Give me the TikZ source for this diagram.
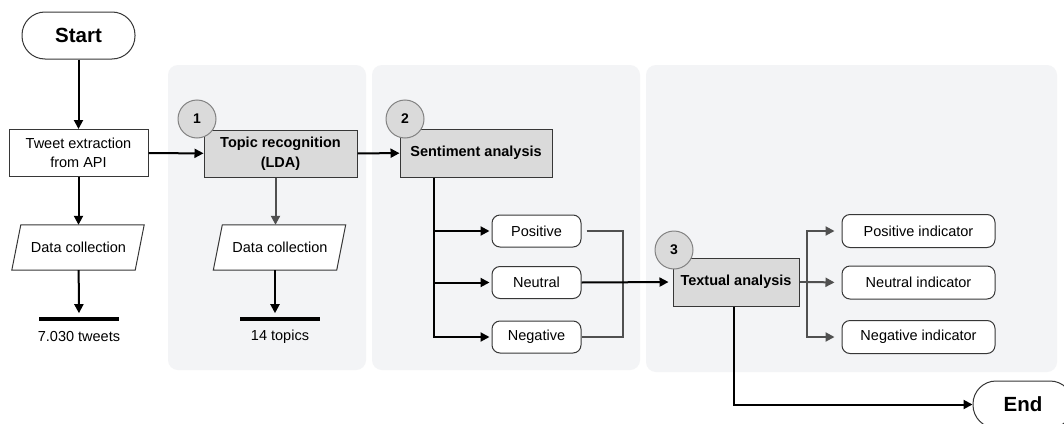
\documentclass[tikz,border=0pt]{standalone}
\usepackage{fontspec}
\setmainfont{Liberation Sans}
\usetikzlibrary{arrows.meta, backgrounds}
\definecolor{panel}{RGB}{243,244,246}
\definecolor{boxgray}{RGB}{218,218,218}
\definecolor{edge}{RGB}{55,55,55}
\definecolor{arrgray}{RGB}{80,80,80}
\definecolor{circedge}{RGB}{130,130,130}
\begin{document}
\begin{tikzpicture}[x=1pt,y=-1pt,
  font=\fontsize{14.5}{19}\selectfont,
  base/.style={draw=edge, line width=1pt, align=center, inner sep=0pt},
  plainbox/.style={base, fill=white},
  graybox/.style={base, fill=boxgray, font=\fontsize{14.5}{20}\selectfont\bfseries},
  roundbox/.style={base, fill=white, rounded corners=8pt},
  terminal/.style={base, fill=white, rounded corners=23pt, minimum height=47pt, font=\fontsize{20.5}{24}\selectfont\bfseries},
  datab/.style={align=center, inner sep=0pt, minimum width=123pt, minimum height=45pt},
  slantbox/.style={draw=edge, line width=1pt, fill=white},
  numc/.style={circle, draw=circedge, fill=boxgray, line width=1pt, minimum size=38pt, inner sep=0pt, font=\fontsize{14}{16}\selectfont\bfseries},
  barnode/.style={fill=black, inner sep=0pt, minimum width=80pt, minimum height=3.2pt},
  plaintext/.style={inner sep=0pt},
  flow/.style={line width=2pt, draw=black, -{Triangle[length=9pt,width=9pt]}},
  gflow/.style={line width=2pt, draw=arrgray, -{Triangle[length=9pt,width=9pt]}},
  gline/.style={line width=2pt, draw=arrgray}
]
\clip (0,0) rectangle (1064,423);

% left column
\node[terminal, minimum width=113pt] (start) at (78.5,35.5) {Start};
\node[plainbox, minimum width=139pt, minimum height=47pt] (tweet) at (78.5,153) {Tweet extraction\\from API};
\node[datab] (dc1) at (78.5,247.5) {Data collection};
\node[barnode] (bar1) at (79,319) {};
\node[plaintext] (t1) at (79,337) {7.030 tweets};

% panel 1
\node[graybox, minimum width=153pt, minimum height=47pt] (topic) at (280.5,153.5) {Topic recognition\\(LDA)};
\node[numc] (c1) at (197,119) {1};
\node[datab] (dc2) at (280,247.5) {Data collection};
\node[barnode] (bar2) at (280,319) {};
\node[plaintext] (t2) at (280,337) {14 topics};

% panel 2
\node[graybox, minimum width=152pt, minimum height=48pt] (sent) at (476,153) {Sentiment analysis};
\node[numc] (c2) at (405,119) {2};
\node[roundbox, minimum width=89pt, minimum height=32pt] (pos) at (536.5,231) {Positive};
\node[roundbox, minimum width=89pt, minimum height=32pt] (neu) at (536.5,282.5) {Neutral};
\node[roundbox, minimum width=89pt, minimum height=32pt] (neg) at (536.5,337) {Negative};

% panel 3
\node[graybox, minimum width=126pt, minimum height=48pt] (txt) at (736,282) {Textual analysis};
\node[numc] (c3) at (674,250) {3};
\node[roundbox, minimum width=153pt, minimum height=33pt] (pind) at (918.5,231) {Positive indicator};
\node[roundbox, minimum width=153pt, minimum height=33pt] (nind) at (918.5,282.5) {Neutral indicator};
\node[roundbox, minimum width=153pt, minimum height=33pt] (gind) at (918.5,337) {Negative indicator};

\node[terminal, minimum width=100pt] (end) at (1023,404.5) {End};

\begin{pgfonlayer}{background}
\fill[white] (0,0) rectangle (1064,423);
\fill[panel, rounded corners=10pt] (168,65) rectangle (366,370);
\fill[panel, rounded corners=10pt] (372,65) rectangle (640,370);
\fill[panel, rounded corners=10pt] (646,65) rectangle (1057,372);
\draw[slantbox] ([xshift=-5pt]dc1.south west) -- ([xshift=-5pt]dc1.south east)
  -- ([xshift=4pt]dc1.north east) -- ([xshift=4pt]dc1.north west) -- cycle;
\draw[slantbox] ([xshift=-5pt]dc2.south west) -- ([xshift=-5pt]dc2.south east)
  -- ([xshift=4pt]dc2.north east) -- ([xshift=4pt]dc2.north west) -- cycle;
\end{pgfonlayer}

% connectors
\draw[flow] (start) -- (tweet);
\draw[flow] (tweet) -- (dc1);
\draw[flow, shorten >=4pt] (dc1) -- (bar1);
\draw[flow] (tweet) -- (topic);
\draw[gflow] ([xshift=-5pt]topic.south) -- ([xshift=-5pt]topic.south |- dc2.north);
\draw[flow, shorten >=4pt] ([xshift=-5pt]bar2.north |- dc2.south) -- ([xshift=-5pt]bar2.north);
\draw[flow] (topic) -- (sent);

\coordinate (trunk) at ([xshift=-42pt]sent.south);
\draw[flow, shorten >=2pt] (trunk) |- (neg.west);
\draw[flow, shorten >=2pt] (trunk |- pos.west) -- (pos.west);
\draw[flow, shorten >=2pt] (trunk |- neu.west) -- (neu.west);

\coordinate (merge) at ([xshift=41pt]pos.east);
\draw[gline] ([xshift=5pt]pos.east) -- (merge) |- (neg.east);
\draw[flow, shorten >=4pt] (neu.east) -- (txt.west);

\coordinate (br) at ([xshift=7pt]txt.east);
\draw[gline] (txt.east) -- (br);
\draw[gflow, shorten >=7pt] (br) |- (pind.west);
\draw[gflow, shorten >=7pt] (br) -- (nind.west);
\draw[gflow, shorten >=7pt] (br) |- (gind.west);

\draw[flow] ([xshift=-2pt]txt.south) |- (end.west);
\end{tikzpicture}
\end{document}
